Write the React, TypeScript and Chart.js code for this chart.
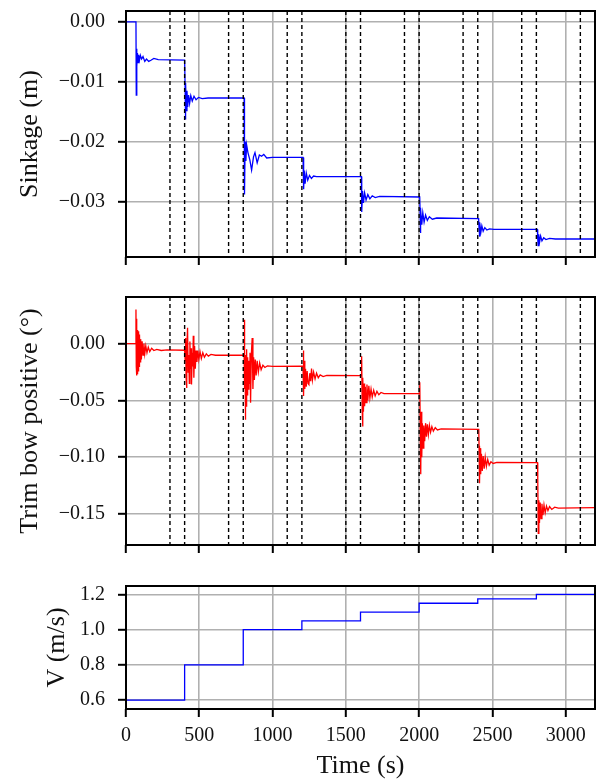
import React, { useEffect, useRef } from 'react';
import { Chart, registerables } from 'chart.js';

Chart.register(...registerables);

// ---------- data ----------
const xTicks = [0, 500, 1000, 1500, 2000, 2500, 3000];
const sinkTicks = [0, -0.01, -0.02, -0.03];
const trimTicks = [0, -0.05, -0.1, -0.15];
const speedTicks = [0.6, 0.8, 1.0, 1.2];
const dashedTimes = [300, 400, 700, 800, 1100, 1200, 1500, 1600, 1900, 2000, 2300, 2400, 2700, 2800, 3100];

const sinkT = [
  0, 68, 70, 72, 75, 78, 82, 86, 92, 98, 106, 116, 128, 140, 155, 170, 190, 220, 400,
  402, 403, 405, 408, 412, 416, 421, 427, 434, 442, 452, 464, 478, 495, 520, 560, 805,
  806, 807, 810, 813, 818, 823, 832, 845, 857, 870, 880, 895, 910, 925, 940, 960, 1000, 1205,
  1208, 1210, 1214, 1216, 1222, 1230, 1240, 1252, 1265, 1280, 1300, 1606,
  1607, 1608, 1610, 1614, 1620, 1628, 1638, 1650, 1664, 1680, 1700, 1730, 2004,
  2005, 2006, 2008, 2012, 2018, 2025, 2034, 2044, 2056, 2070, 2090, 2120, 2406,
  2407, 2409, 2411, 2415, 2421, 2428, 2437, 2448, 2462, 2480, 2510, 2807,
  2808, 2810, 2812, 2816, 2822, 2829, 2838, 2850, 2865, 2890, 2930, 3200,
];
const sinkV = [
  0, 0, -0.0122, -0.0045, -0.0075, -0.0052, -0.0068, -0.0055, -0.0064, -0.0056, -0.0062, -0.0058, -0.0066, -0.0062, -0.0066, -0.0064, -0.0061, -0.0063, -0.0064,
  -0.0064, -0.0105, -0.0163, -0.0102, -0.0148, -0.0115, -0.0142, -0.0122, -0.0136, -0.0123, -0.0132, -0.0124, -0.013, -0.0126, -0.0128, -0.0127, -0.0127,
  -0.0127, -0.018, -0.0288, -0.02, -0.0232, -0.0205, -0.0218, -0.023, -0.0247, -0.0225, -0.0218, -0.0235, -0.0222, -0.0224, -0.0221, -0.0227, -0.0226, -0.0226,
  -0.0226, -0.0255, -0.0279, -0.0248, -0.027, -0.0252, -0.0264, -0.0256, -0.0261, -0.0257, -0.0258, -0.0258,
  -0.0258, -0.029, -0.0317, -0.0282, -0.0302, -0.0285, -0.0297, -0.0288, -0.0295, -0.029, -0.0293, -0.0291, -0.0292,
  -0.0292, -0.031, -0.0352, -0.0312, -0.0338, -0.0318, -0.0334, -0.0322, -0.0331, -0.0325, -0.0329, -0.0327, -0.0328,
  -0.0328, -0.0345, -0.0358, -0.0334, -0.0351, -0.034, -0.0349, -0.0343, -0.0347, -0.0345, -0.0346, -0.0346,
  -0.0346, -0.036, -0.0373, -0.0354, -0.0367, -0.0357, -0.0365, -0.036, -0.0363, -0.0361, -0.0362, -0.0362,
];

const trimT = [
  0, 67, 68, 70, 72, 74, 76, 78, 80, 83, 86, 89, 92, 96, 100, 105, 110, 116, 122, 128, 135, 143, 152, 162, 175, 190, 210, 240, 280, 400,
  402, 404, 407, 410, 413, 416, 420, 424, 428, 432, 436, 440, 444, 447, 452, 456, 459, 463, 468, 473, 478, 484, 490, 497, 505, 514, 524, 535, 548, 562, 580, 610, 805,
  806, 808, 810, 812, 814, 817, 820, 823, 826, 830, 834, 838, 842, 846, 850, 855, 861, 866, 871, 876, 882, 888, 895, 903, 912, 922, 934, 948, 965, 1000, 1207,
  1208, 1210, 1213, 1216, 1220, 1225, 1230, 1236, 1242, 1248, 1254, 1260, 1266, 1272, 1280, 1290, 1300, 1312, 1325, 1345, 1370, 1606,
  1607, 1609, 1612, 1614, 1617, 1620, 1624, 1628, 1633, 1638, 1644, 1650, 1657, 1664, 1672, 1680, 1690, 1700, 1712, 1725, 1740, 1760, 2003,
  2004, 2005, 2008, 2011, 2014, 2018, 2022, 2027, 2032, 2038, 2044, 2050, 2056, 2063, 2070, 2078, 2087, 2097, 2110, 2125, 2150, 2407,
  2408, 2409, 2412, 2416, 2420, 2425, 2431, 2437, 2444, 2451, 2459, 2468, 2478, 2490, 2505, 2530, 2808,
  2809, 2810, 2813, 2817, 2821, 2826, 2832, 2838, 2845, 2852, 2860, 2869, 2879, 2890, 2905, 2925, 2950, 3200,
];
const trimV = [
  0, 0, 0.030, -0.020, 0.022, -0.028, 0.010, -0.027, 0.012, -0.024, 0.011, -0.020, 0.008, -0.016, 0.004, -0.014, 0.002, -0.010, 0.0, -0.009, -0.002, -0.008, -0.003, -0.007, -0.004, -0.006, -0.005, -0.006, -0.0055, -0.0058,
  -0.0058, -0.015, 0.005, -0.030, -0.039, -0.005, 0.014, -0.025, -0.010, -0.035, 0.002, -0.022, -0.004, -0.036, -0.008, -0.020, 0.007, -0.030, -0.002, -0.022, -0.006, -0.016, -0.006, -0.014, -0.007, -0.013, -0.008, -0.012, -0.009, -0.011, -0.0095, -0.0102, -0.0102,
  -0.0102, 0.021, -0.040, -0.010, -0.067, -0.015, -0.055, -0.005, -0.045, -0.012, -0.040, -0.015, -0.035, -0.008, -0.052, -0.010, 0.005, -0.040, -0.012, -0.032, -0.014, -0.028, -0.015, -0.025, -0.017, -0.023, -0.019, -0.021, -0.0195, -0.020, -0.0199,
  -0.0199, -0.006, -0.046, -0.015, -0.040, -0.022, -0.038, -0.024, -0.035, -0.036, -0.026, -0.033, -0.022, -0.032, -0.025, -0.031, -0.026, -0.030, -0.0275, -0.029, -0.028, -0.0281,
  -0.0281, -0.011, -0.060, -0.073, -0.030, -0.060, -0.035, -0.055, -0.038, -0.052, -0.036, -0.050, -0.037, -0.048, -0.040, -0.047, -0.041, -0.046, -0.042, -0.045, -0.043, -0.044, -0.0437,
  -0.0437, -0.034, -0.080, -0.115, -0.060, -0.100, -0.070, -0.092, -0.072, -0.086, -0.070, -0.082, -0.071, -0.080, -0.072, -0.078, -0.073, -0.077, -0.074, -0.076, -0.075, -0.0754,
  -0.0754, -0.090, -0.123, -0.092, -0.115, -0.097, -0.112, -0.099, -0.110, -0.100, -0.108, -0.102, -0.107, -0.104, -0.1055, -0.1045, -0.1048,
  -0.1048, -0.120, -0.167, -0.138, -0.158, -0.140, -0.154, -0.141, -0.151, -0.142, -0.149, -0.143, -0.147, -0.1435, -0.146, -0.144, -0.1448, -0.1444,
];

const speedT = [0, 400, 800, 1200, 1600, 2000, 2400, 2800, 3200];
const speedV = [0.6, 0.8, 1.0, 1.05, 1.1, 1.15, 1.175, 1.2, 1.2];

// ---------- styling ----------
const FONT = "'Liberation Serif', 'DejaVu Serif', serif";
const TEXT = '#111';
const GRID = '#b0b0b0';

const fmt = (v: number, d: number) => {
  const s = Math.abs(v).toFixed(d);
  return v < -1e-12 ? '\u2212' + s : s;
};

const framePlugin = {
  id: 'frame',
  afterDatasetsDraw(chart: any, _args: any, opts: any) {
    const { ctx, chartArea: a, scales } = chart;
    const dashed: number[] = (opts && opts.dashed) || [];
    if (!dashed.length) return;
    ctx.save();
    ctx.beginPath();
    ctx.rect(a.left, a.top, a.right - a.left, a.bottom - a.top);
    ctx.clip();
    ctx.setLineDash([4, 3]);
    ctx.lineWidth = 1.4;
    ctx.strokeStyle = '#000';
    for (const t of dashed) {
      const x = scales.x.getPixelForValue(t);
      ctx.beginPath();
      ctx.moveTo(x, a.top);
      ctx.lineTo(x, a.bottom);
      ctx.stroke();
    }
    ctx.restore();
  },
  afterDraw(chart: any) {
    const { ctx, chartArea: a } = chart;
    ctx.save();
    ctx.lineWidth = 2;
    ctx.strokeStyle = '#000';
    ctx.strokeRect(a.left, a.top, a.right - a.left, a.bottom - a.top);
    ctx.restore();
  },
};

type PanelCfg = {
  t: number[];
  v: number[];
  color: string;
  stepped?: boolean;
  yMin: number;
  yMax: number;
  yTicks: number[];
  decimals: number;
  yTitle: string;
  yTitlePad: number;
  padTop: number;
  xHeight: number;
  showX: boolean;
  dashed: number[];
};

function makeConfig(c: PanelCfg): any {
  return {
    type: 'line',
    data: {
      datasets: [
        {
          data: c.t.map((t, i) => ({ x: t, y: c.v[i] })),
          borderColor: c.color,
          borderWidth: 1.3,
          pointRadius: 0,
          fill: false,
          tension: 0,
          stepped: c.stepped ? 'before' : false,
        },
      ],
    },
    options: {
      animation: false,
      responsive: false,
      events: [],
      layout: { padding: { left: 0, right: 3, top: c.padTop, bottom: 0 } },
      plugins: {
        legend: { display: false },
        tooltip: { enabled: false },
        frame: { dashed: c.dashed },
      },
      scales: {
        x: {
          type: 'linear',
          min: 0,
          max: 3200,
          afterBuildTicks: (s: any) => {
            s.ticks = xTicks.map((v) => ({ value: v }));
          },
          afterFit: (s: any) => {
            s.height = c.xHeight;
            s.paddingLeft = 0;
            s.paddingRight = 0;
          },
          border: { display: false },
          grid: { color: GRID, lineWidth: 1.6, tickColor: '#000', tickWidth: 2, tickLength: 8, drawTicks: true },
          ticks: {
            display: c.showX,
            padding: 7,
            color: TEXT,
            font: { family: FONT, size: 20 },
            maxRotation: 0,
            callback: (v: any) => String(v),
          },
          title: {
            display: c.showX,
            text: 'Time (s)',
            color: TEXT,
            font: { family: FONT, size: 26, lineHeight: 1 },
            padding: { top: 0, bottom: 1 },
          },
        },
        y: {
          type: 'linear',
          min: c.yMin,
          max: c.yMax,
          afterBuildTicks: (s: any) => {
            s.ticks = c.yTicks.map((v) => ({ value: v }));
          },
          afterFit: (s: any) => {
            s.width = 126;
            s.paddingTop = 0;
            s.paddingBottom = 0;
          },
          border: { display: false },
          grid: { color: GRID, lineWidth: 1.6, tickColor: '#000', tickWidth: 2, tickLength: 8, drawTicks: true },
          ticks: {
            padding: 13,
            color: TEXT,
            font: { family: FONT, size: 20 },
            callback: (v: any) => fmt(Number(v), c.decimals),
          },
          title: {
            display: true,
            text: c.yTitle,
            color: TEXT,
            font: { family: FONT, size: 26, lineHeight: 1 },
            padding: { top: c.yTitlePad, bottom: 0 },
          },
        },
      },
    },
    plugins: [framePlugin],
  };
}

function Panel({ top, height, cfg }: { top: number; height: number; cfg: PanelCfg }) {
  const ref = useRef<HTMLCanvasElement | null>(null);
  useEffect(() => {
    if (!ref.current) return;
    const chart = new Chart(ref.current, makeConfig(cfg));
    return () => chart.destroy();
  }, []);
  return (
    <canvas
      ref={ref}
      width={598}
      height={height}
      style={{ position: 'absolute', left: 0, top, width: 598, height, display: 'block' }}
    />
  );
}

export default function App() {
  const sink: PanelCfg = {
    t: sinkT, v: sinkV, color: '#0000ff', yMin: -0.0392, yMax: 0.0018, yTicks: sinkTicks, decimals: 2,
    yTitle: 'Sinkage (m)', yTitlePad: 17, padTop: 11, xHeight: 23, showX: false, dashed: dashedTimes,
  };
  const trim: PanelCfg = {
    t: trimT, v: trimV, color: '#ff0000', yMin: -0.1773, yMax: 0.0411, yTicks: trimTicks, decimals: 2,
    yTitle: 'Trim bow positive (\u00b0)', yTitlePad: 17, padTop: 17, xHeight: 15, showX: false, dashed: dashedTimes,
  };
  const speed: PanelCfg = {
    t: speedT, v: speedV, color: '#0000ff', stepped: true, yMin: 0.549, yMax: 1.248, yTicks: speedTicks, decimals: 1,
    yTitle: 'V (m/s)', yTitlePad: 44, padTop: 26, xHeight: 71, showX: true, dashed: [],
  };
  return (
    <div style={{ position: 'absolute', left: 0, top: 0, width: 598, height: 780, background: '#fff' }}>
      <Panel top={0} height={280} cfg={sink} />
      <Panel top={280} height={280} cfg={trim} />
      <Panel top={560} height={220} cfg={speed} />
    </div>
  );
}
